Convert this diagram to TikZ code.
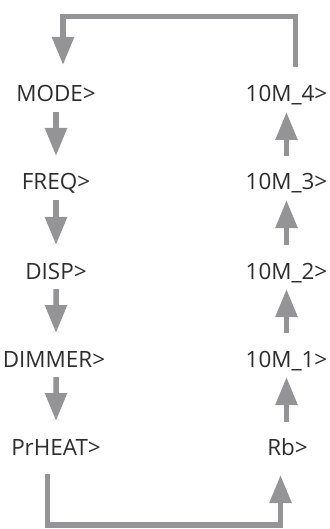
\documentclass[tikz,border=0pt]{standalone}
\usepackage{fontspec}
\setmainfont{Open Sans}
\usetikzlibrary{arrows.meta}
\definecolor{flowgray}{RGB}{148,148,150}
\definecolor{labelink}{RGB}{45,45,45}
\begin{document}
\begin{tikzpicture}[x=1bp,y=-1bp,
  menulabel/.style={text=labelink, font=\fontsize{22.5}{26}\selectfont, inner sep=0pt, anchor=base},
  flow/.style={draw=flowgray, line width=5.5bp, line cap=butt, line join=miter,
    -{Triangle[width=21bp,length=28bp]}}]
\useasboundingbox (0,0) rectangle (329,529);

% left column: main menu entries
\node[menulabel] (mode)    at (56,102) {MODE>};
\node[menulabel] (freq)    at (56,190) {FREQ>};
\node[menulabel] (disp)    at (56,279) {DISP>};
\node[menulabel] (dimmer)  at (54,367) {DIMMER>};
\node[menulabel] (preheat) at (56,455) {PrHEAT>};

% right column: sub menu entries
\node[menulabel] (mfour)  at (286.5,102) {10M\_4>};
\node[menulabel] (mthree) at (286.5,190) {10M\_3>};
\node[menulabel] (mtwo)   at (286.5,279) {10M\_2>};
\node[menulabel] (mone)   at (286.5,367) {10M\_1>};
\node[menulabel] (rb)     at (287.5,455) {Rb>};

% downward steps
\draw[flow] ([yshift=-10bp]mode.base)    -- ([yshift=34bp]freq.base);
\draw[flow] ([yshift=-10bp]freq.base)    -- ([yshift=34bp]disp.base);
\draw[flow] ([yshift=-10bp]disp.base)    -- ([xshift=2bp,yshift=34bp]dimmer.base);
\draw[flow] ([xshift=2bp,yshift=-10bp]dimmer.base) -- ([yshift=34bp]preheat.base);

% upward steps
\draw[flow] ([xshift=-1bp,yshift=33bp]rb.base) -- ([yshift=-10bp]mone.base);
\draw[flow] ([yshift=34bp]mone.base)   -- ([yshift=-10bp]mtwo.base);
\draw[flow] ([yshift=34bp]mtwo.base)   -- ([yshift=-10bp]mthree.base);
\draw[flow] ([yshift=34bp]mthree.base) -- ([yshift=-10bp]mfour.base);

% return loops
\draw[flow] ([xshift=9bp,yshift=35bp]mfour.base) -- ++(0,-50.5)
  -| ([xshift=7bp,yshift=37bp]mode.base);
\draw[flow] ([xshift=-8.5bp,yshift=-19bp]preheat.base) -- ++(0,51)
  -| ([xshift=-7bp,yshift=-20bp]rb.base);
\end{tikzpicture}
\end{document}
